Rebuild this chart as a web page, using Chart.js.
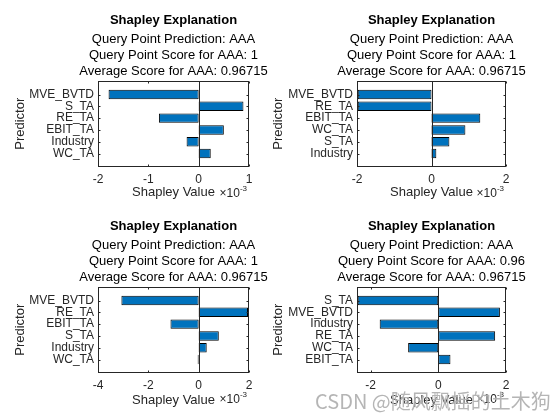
<!DOCTYPE html>
<html>
<head>
<meta charset="utf-8">
<script src="https://cdn.jsdelivr.net/npm/chart.js@4.4.1/dist/chart.umd.min.js"></script>
<style>
    html, body { margin: 0; padding: 0; background: #fff; }
    #wrap { position: relative; width: 560px; height: 420px; overflow: hidden; }
    #wrap canvas { position: absolute; }
    #mark {
        position: absolute; left: 315px; top: 391px;
        font: 20px/20px "Noto Sans CJK SC", sans-serif;
        color: rgba(120, 120, 120, 0.55);
        white-space: nowrap;
        text-shadow: 0 0 1px #fff;
    }
</style>
</head>
<body>
<div id="wrap">
    <canvas id="c1"></canvas>
    <canvas id="c2"></canvas>
    <canvas id="c3"></canvas>
    <canvas id="c4"></canvas>
    <div id="mark">CSDN @随风飘摇的土木狗</div>
</div>
<script>
// top left
const predictorsA = ['MVE_BVTD', 'S_TA', 'RE_TA', 'EBIT_TA', 'Industry', 'WC_TA'];
const shapleyA = [-1.79, 0.89, -0.79, 0.50, -0.24, 0.24];
const xTicksA = [-2, -1, 0, 1];
const scoreA = '1';
// top right
const predictorsB = ['MVE_BVTD', 'RE_TA', 'EBIT_TA', 'WC_TA', 'S_TA', 'Industry'];
const shapleyB = [-1.98, -1.98, 1.31, 0.91, 0.48, 0.13];
const xTicksB = [-2, 0, 2];
const scoreB = '1';
// bottom left
const predictorsC = ['MVE_BVTD', 'RE_TA', 'EBIT_TA', 'S_TA', 'Industry', 'WC_TA'];
const shapleyC = [-3.07, 1.96, -1.12, 0.80, 0.32, -0.04];
const xTicksC = [-4, -2, 0, 2];
const scoreC = '1';
// bottom right
const predictorsD = ['S_TA', 'MVE_BVTD', 'Industry', 'RE_TA', 'WC_TA', 'EBIT_TA'];
const shapleyD = [-2.38, 1.82, -1.73, 1.68, -0.89, 0.36];
const xTicksD = [-2, 0, 2];
const scoreD = '0.96';

const prediction = 'AAA';
const averageScore = '0.96715';
const xExponent = '-3';

const FONT = '"Liberation Sans", Arial, sans-serif';
const AXIS_COLOR = '#262626';
Chart.defaults.font.family = FONT;

// box, zero line, inward ticks and the x10^-3 label
const matlabAxes = {
    id: 'matlabAxes',
    afterDatasetsDraw(chart) {
        const ctx = chart.ctx;
        const a = chart.chartArea;
        const x = chart.scales.x, y = chart.scales.y;
        const l = Math.round(a.left) + 0.5, r = Math.round(a.right) - 0.5;
        const t = Math.round(a.top) + 0.5, b = Math.round(a.bottom) - 0.5;
        ctx.save();
        ctx.strokeStyle = AXIS_COLOR;
        ctx.lineWidth = 1;
        const zx = Math.round(x.getPixelForValue(0)) + 0.5;
        ctx.beginPath();
        ctx.moveTo(zx, t);
        ctx.lineTo(zx, b);
        x.ticks.forEach(tk => {
            const px = Math.round(x.getPixelForValue(tk.value)) + 0.5;
            ctx.moveTo(px, b); ctx.lineTo(px, b - 2);
            ctx.moveTo(px, t); ctx.lineTo(px, t + 2);
        });
        y.ticks.forEach(tk => {
            const py = Math.round(y.getPixelForValue(tk.value)) + 0.5;
            ctx.moveTo(l, py); ctx.lineTo(l + 2, py);
            ctx.moveTo(r, py); ctx.lineTo(r - 2, py);
        });
        ctx.stroke();
        ctx.strokeRect(l, t, r - l, b - t);

        const ey = a.bottom + 27;
        ctx.fillStyle = AXIS_COLOR;
        ctx.textBaseline = 'middle';
        ctx.textAlign = 'right';
        ctx.font = '8px ' + FONT;
        const supW = ctx.measureText(xExponent).width;
        ctx.fillText(xExponent, a.right - 2, ey - 5);
        ctx.font = '12px ' + FONT;
        ctx.fillText('\u00d710', a.right - 2 - supW, ey);
        ctx.restore();
    }
};

function makeChart(id, left, top, width, height, yW, names, values, xMin, xMax, xTicks, score, yTitlePad, xTitlePad) {
    const canvas = document.getElementById(id);
    canvas.width = width;
    canvas.height = height;
    canvas.style.left = left + 'px';
    canvas.style.top = top + 'px';
    canvas.style.width = width + 'px';
    canvas.style.height = height + 'px';

    const points = values.map((v, i) => ({x: v, y: i + 1}));

    return new Chart(canvas.getContext('2d'), {
        type: 'bar',
        data: {
            datasets: [{
                data: points,
                backgroundColor: '#0072BD',
                borderColor: '#000000',
                borderWidth: 1,
                borderSkipped: false,
                barPercentage: 0.8,
                categoryPercentage: 1
            }]
        },
        plugins: [matlabAxes],
        options: {
            indexAxis: 'y',
            responsive: false,
            animation: false,
            layout: {padding: 0},
            plugins: {
                legend: {display: false},
                tooltip: {enabled: false},
                title: {
                    display: true,
                    text: 'Shapley Explanation',
                    color: '#000',
                    font: {size: 13, weight: 'bold', lineHeight: 1.2},
                    padding: {top: 12.9, bottom: 0}
                },
                subtitle: {
                    display: true,
                    text: [
                        'Query Point Prediction: ' + prediction,
                        'Query Point Score for ' + prediction + ': ' + score,
                        'Average Score for ' + prediction + ': ' + averageScore
                    ],
                    color: '#000',
                    font: {size: 13, lineHeight: 1.23},
                    padding: {top: 2.8, bottom: 1.7}
                }
            },
            scales: {
                x: {
                    type: 'linear',
                    min: xMin,
                    max: xMax,
                    grid: {display: false, drawTicks: false},
                    border: {display: false},
                    afterBuildTicks: s => { s.ticks = xTicks.map(v => ({value: v})); },
                    afterFit: s => { s.height = height - 166.5; },
                    ticks: {color: AXIS_COLOR, font: {size: 12}, padding: 6, maxRotation: 0},
                    title: {
                        display: true,
                        text: 'Shapley Value',
                        color: AXIS_COLOR,
                        font: {size: 13},
                        padding: {top: 0, bottom: xTitlePad}
                    }
                },
                y: {
                    type: 'linear',
                    reverse: true,
                    min: -0.15,
                    max: 7.1,
                    offset: false,
                    bounds: 'data',
                    grid: {display: false, drawTicks: false, offset: false},
                    border: {display: false},
                    afterBuildTicks: s => { s.ticks = names.map((n, i) => ({value: i + 1})); },
                    afterFit: s => { s.width = yW; },
                    ticks: {
                        color: AXIS_COLOR,
                        font: {size: 12, lineHeight: 1},
                        padding: 4,
                        autoSkip: false,
                        callback: v => names[v - 1]
                    },
                    title: {
                        display: true,
                        text: 'Predictor',
                        color: AXIS_COLOR,
                        font: {size: 13},
                        padding: {top: yTitlePad, bottom: 0}
                    }
                },
                // empty right axis so the titles centre over the plot box
                y2: {
                    type: 'linear',
                    position: 'right',
                    grid: {display: false, drawTicks: false},
                    border: {display: false},
                    ticks: {display: false},
                    afterFit: s => { s.width = yW; }
                }
            }
        }
    });
}

makeChart('c1', 0, 0, 347, 206, 98, predictorsA, shapleyA, -2, 1, xTicksA, scoreA, 12.2, 5.7);
makeChart('c2', 268, 0, 327, 206, 89, predictorsB, shapleyB, -2, 2, xTicksB, scoreB, 2.2, 5.7);
makeChart('c3', 0, 206, 347, 214, 98, predictorsC, shapleyC, -4, 2, xTicksC, scoreC, 12.2, 11.5);
makeChart('c4', 268, 206, 327, 214, 89, predictorsD, shapleyD, -2.4, 2, xTicksD, scoreD, 2.2, 11.5);
</script>
</body>
</html>
